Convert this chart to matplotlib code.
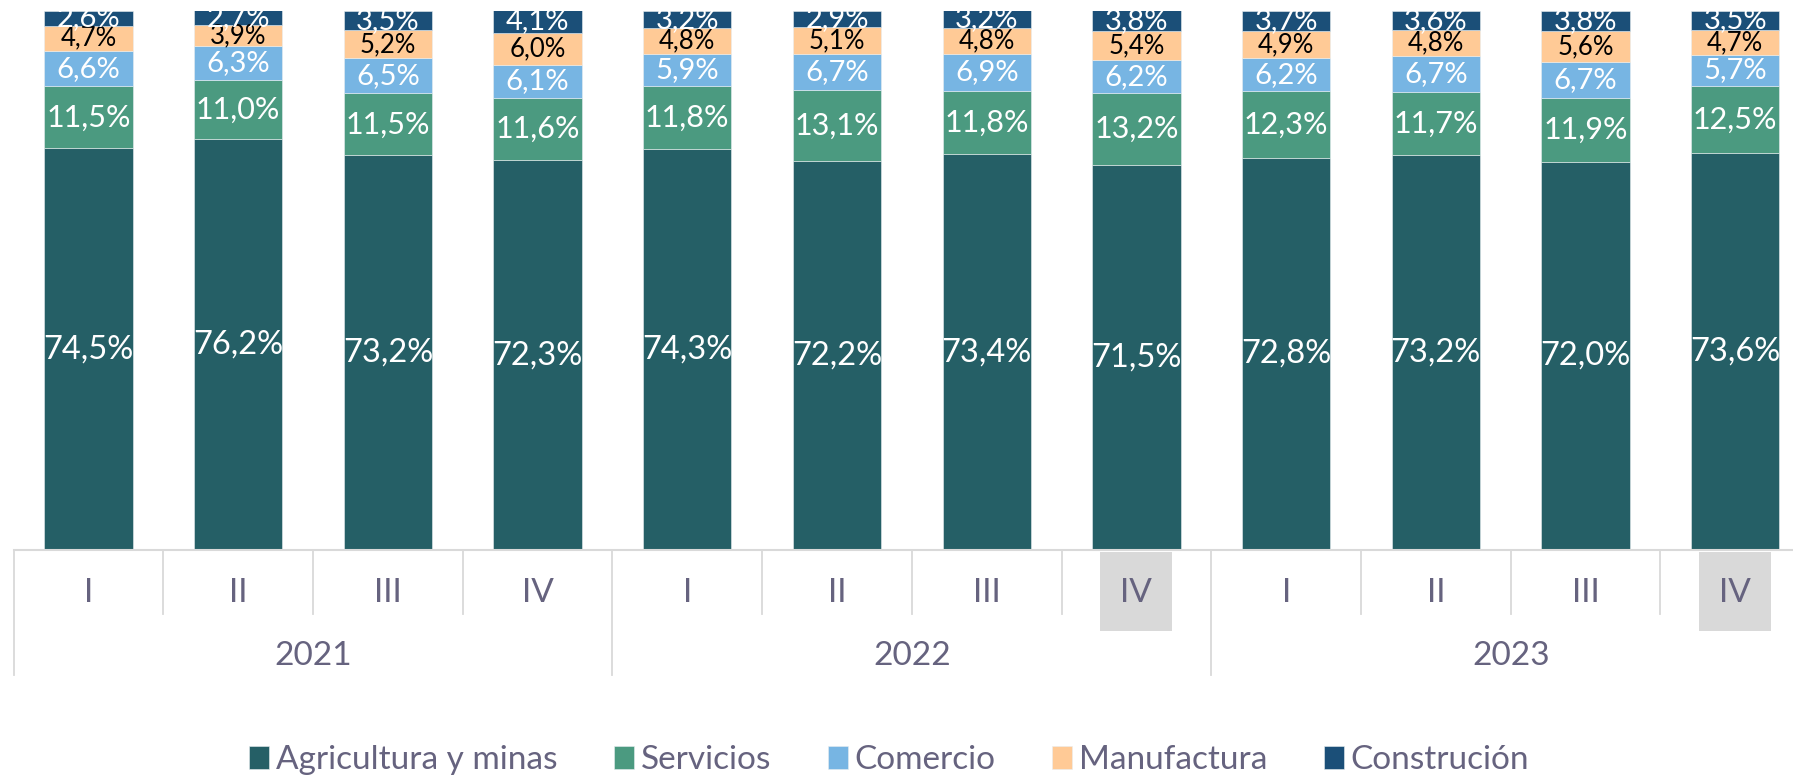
import numpy as np
import matplotlib
matplotlib.use("Agg")
import matplotlib.pyplot as plt
import matplotlib.transforms as mtransforms

plt.rcParams['font.family'] = ['Lato', 'DejaVu Sans']

# data
years = ['2021', '2022', '2023']
quarters = ['I', 'II', 'III', 'IV'] * 3
highlight = [7, 11]
series = ['Agricultura y minas', 'Servicios', 'Comercio', 'Manufactura', 'Construción']
agri = [74.5, 76.2, 73.2, 72.3, 74.3, 72.2, 73.4, 71.5, 72.8, 73.2, 72.0, 73.6]
serv = [11.5, 11.0, 11.5, 11.6, 11.8, 13.1, 11.8, 13.2, 12.3, 11.7, 11.9, 12.5]
com = [6.6, 6.3, 6.5, 6.1, 5.9, 6.7, 6.9, 6.2, 6.2, 6.7, 6.7, 5.7]
manu = [4.7, 3.9, 5.2, 6.0, 4.8, 5.1, 4.8, 5.4, 4.9, 4.8, 5.6, 4.7]
cons = [2.6, 2.7, 3.5, 4.1, 3.2, 2.9, 3.2, 3.8, 3.7, 3.6, 3.8, 3.5]

colors = ['#255F66', '#4B9A80', '#77B5E3', '#FFCA96', '#1B4F78']
label_colors = ['white', 'white', 'white', 'black', 'white']
label_sizes = [23.5, 22, 21, 18.5, 21]
axis_color = '#66637F'
grid_color = '#D9D9D9'

fig = plt.figure(figsize=(17.93, 7.82), dpi=100)
ax = fig.add_axes([0.0076, 0.2967, 0.9924, 0.6893])

x = np.arange(len(agri))
bottom = np.zeros(len(agri))
handles = []
for vals, col, lc, fs, name in zip([agri, serv, com, manu, cons], colors,
                                   label_colors, label_sizes, series):
    vals = np.array(vals)
    b = ax.bar(x, vals, 0.59, bottom=bottom, color=col, edgecolor='#E8EEF0',
               linewidth=0.4, label=name)
    handles.append(b)
    for xi, v, bt in zip(x, vals, bottom):
        ax.text(xi, bt + v / 2, f"{v:.1f}%".replace('.', ','), ha='center',
                va='center', color=lc, fontsize=fs, clip_on=True)
    bottom += vals

ax.set_xlim(-0.5, -0.5 + (1793 - 13.7) / 149.7)
ax.set_ylim(0, 100)
for s in ax.spines.values():
    s.set_visible(False)
ax.set_xticks([])
ax.set_yticks([])

trans = mtransforms.blended_transform_factory(ax.transData, ax.transAxes)
# axis line
ax.plot([-0.5, 12.5], [0, 0], color=grid_color, lw=1.5, transform=trans, clip_on=False)
# separators
for i in range(13):
    edge = i - 0.5
    low = -0.232 if i % 4 == 0 else -0.119
    ax.plot([edge, edge], [0, low], color=grid_color, lw=1.3, transform=trans, clip_on=False)

# highlighted quarter boxes
for i in highlight:
    ax.add_patch(plt.Rectangle((i - 0.24, -0.150), 0.48, 0.146, transform=trans,
                               facecolor='#D9D9D9', edgecolor='none', clip_on=False, zorder=0))

for i, q in enumerate(quarters):
    ax.text(i, -0.080, q, transform=trans, ha='center', va='center',
            color=axis_color, fontsize=24)
for j, yr in enumerate(years):
    ax.text(4 * j + 1.5, -0.197, yr, transform=trans, ha='center', va='center',
            color=axis_color, fontsize=24)

fig.legend(handles=handles, loc='center', bbox_to_anchor=(0.496, 0.028), ncol=5,
           frameon=False, fontsize=24, labelcolor=axis_color, handlelength=0.6,
           handleheight=0.7, handletextpad=0.2, columnspacing=1.7)

fig.savefig('out.png', dpi=100)
